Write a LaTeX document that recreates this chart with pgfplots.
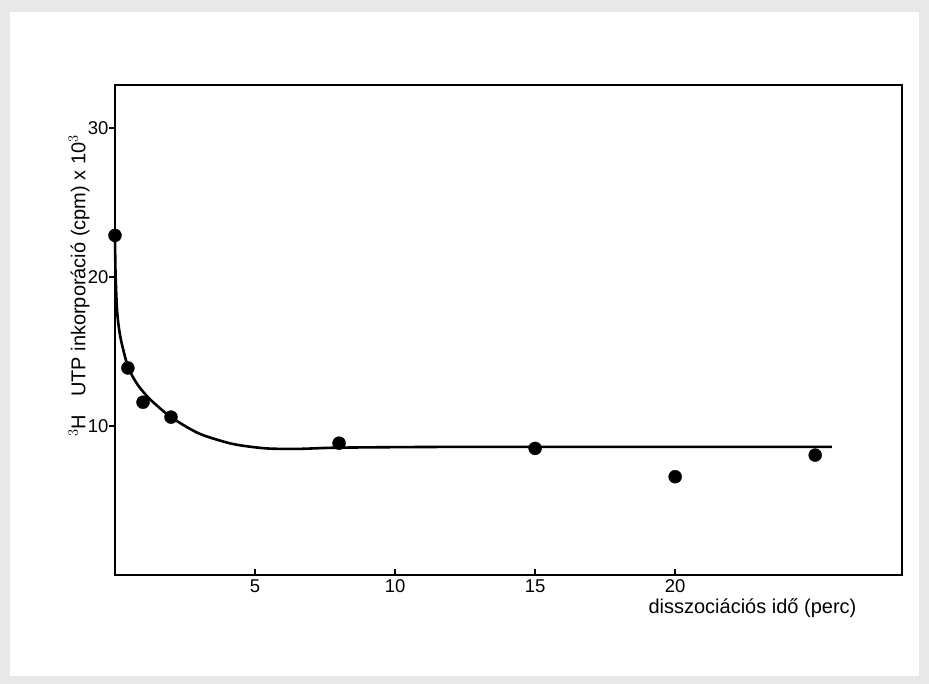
\documentclass[border=0pt]{standalone}
\usepackage{pgfplots}
\pgfplotsset{compat=1.18}
\usepackage{fontspec}
\setmainfont{Liberation Sans}
\begin{document}
\begin{tikzpicture}[x=1pt,y=1pt]
% paper sheet
\fill[gray!18] (0,0) rectangle (929,684);
\fill[white] (10,8) rectangle (919,672);
\begin{axis}[
  at={(115pt,109pt)}, anchor=south west,
  scale only axis, width=787pt, height=490pt,
  xmin=0, xmax=28.1, ymin=0, ymax=32.9,
  axis line style={line width=2.2pt},
  xtick={5,10,15,20}, ytick={10,20,30},
  tick style={line width=1.8pt, black},
  xtick pos=bottom, ytick pos=left,
  xtick align=inside, ytick align=outside,
  major tick length=6pt,
  tick label style={font=\fontsize{18.5}{20}\selectfont},
  /pgf/number format/assume math mode=true,
  xticklabel style={anchor=north, text height=13pt, text depth=0pt, yshift=-1pt},
  yticklabel style={xshift=3pt},
  xlabel={disszociációs idő (perc)},
  xlabel style={font=\fontsize{20}{22}\selectfont, anchor=north, at={(axis description cs:0.81,-0.042)}},
  ylabel={$^3$H\hspace{0.9em}UTP inkorporáció (cpm) x 10$^3$},
  ylabel style={font=\fontsize{20}{22}\selectfont, anchor=south, at={(axis description cs:-0.028,0.59)}},
  clip=false,
]
% fitted decay curve
\addplot[black, line width=2.6pt, smooth, tension=0.45] coordinates {
  (0,22.6) (0.02,20.2) (0.08,17.6) (0.2,15.9) (0.46,14.0) (0.8,12.8)
  (1.25,11.8) (2,10.6) (3,9.5) (4.2,8.8) (5.4,8.5) (6.6,8.47)
  (8,8.55) (12,8.6) (20,8.6) (25.6,8.6)
};
% measured incorporation
\addplot[only marks, mark=*, mark size=6.5pt, black] coordinates {
  (0,22.8) (0.46,13.9) (1.0,11.6) (2.0,10.6) (8,8.85) (15,8.5) (20,6.6) (25,8.05)
};
\end{axis}
\end{tikzpicture}
\end{document}
